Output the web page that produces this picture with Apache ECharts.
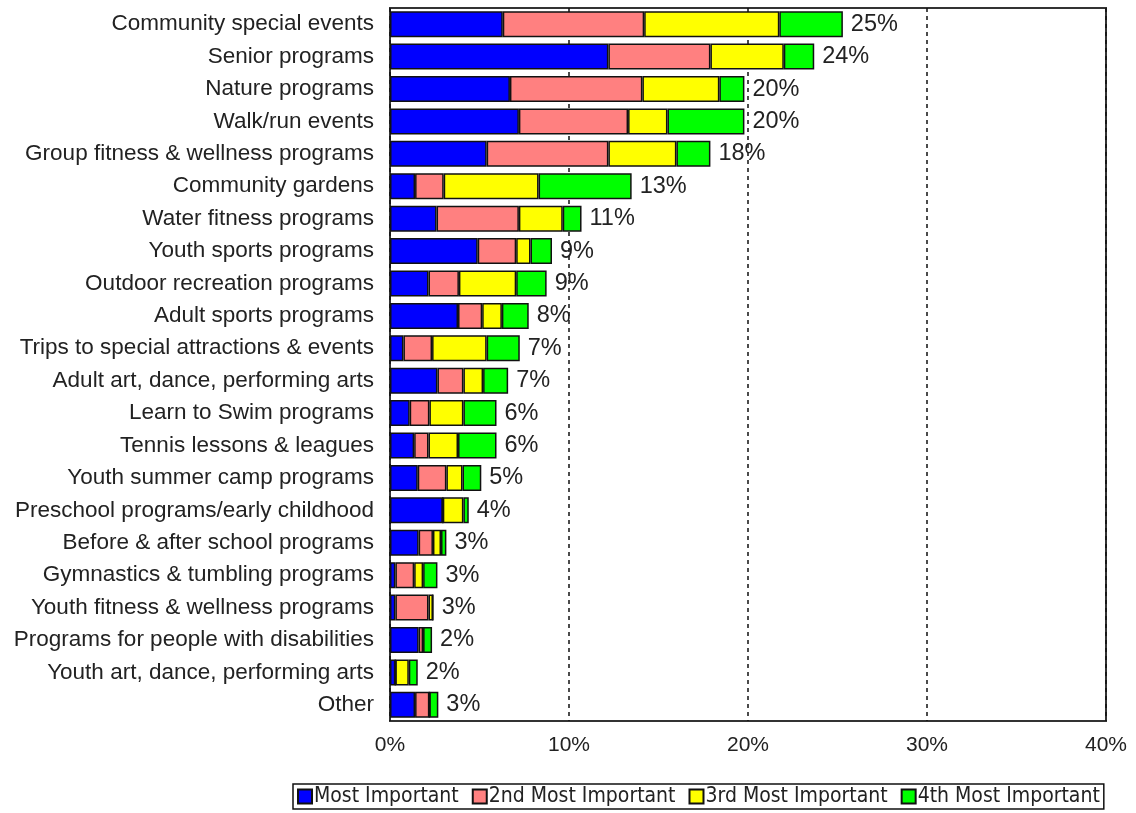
<!DOCTYPE html>
<html><head><meta charset="utf-8">
<script src="https://cdn.jsdelivr.net/npm/echarts@6/dist/echarts.min.js"></script>
<style>html,body{margin:0;padding:0;background:#fff}#c{width:1136px;height:813px}</style>
</head><body><div id="c"></div>
<script>
const categories = ["Community special events","Senior programs","Nature programs","Walk/run events","Group fitness & wellness programs","Community gardens","Water fitness programs","Youth sports programs","Outdoor recreation programs","Adult sports programs","Trips to special attractions & events","Adult art, dance, performing arts","Learn to Swim programs","Tennis lessons & leagues","Youth summer camp programs","Preschool programs/early childhood","Before & after school programs","Gymnastics & tumbling programs","Youth fitness & wellness programs","Programs for people with disabilities","Youth art, dance, performing arts","Other"];
const mostImportant = [6.3,12.2,6.7,7.2,5.4,1.4,2.6,4.9,2.15,3.8,0.75,2.65,1.1,1.35,1.55,2.95,1.6,0.3,0.3,1.6,0.3,1.4];
const secondImportant = [7.9,5.7,7.4,6.1,6.8,1.6,4.6,2.15,1.7,1.35,1.6,1.45,1.1,0.8,1.6,0,0.8,1.05,1.85,0.25,0,0.8];
const thirdImportant = [7.55,4.1,4.3,2.2,3.8,5.3,2.45,0.8,3.2,1.1,3.05,1.1,1.9,1.65,0.9,1.15,0.45,0.5,0.25,0,0.75,0];
const fourthImportant = [3.55,1.7,1.4,4.3,1.9,5.2,1.05,1.2,1.7,1.5,1.85,1.4,1.85,2.15,1.05,0.3,0.3,0.8,0,0.5,0.5,0.5];
const totals = [25,24,20,20,18,13,11,9,9,8,7,7,6,6,5,4,3,3,3,2,2,3];
const seriesNames = ["Most Important","2nd Most Important","3rd Most Important","4th Most Important"];
const xTicks = [0,10,20,30,40];

const font = "'Liberation Sans', Arial, sans-serif";
const colors = ["#0000FF","#FF8080","#FFFF00","#00FF00"];
const dataSets = [mostImportant, secondImportant, thirdImportant, fourthImportant];

const chart = echarts.init(document.getElementById('c'), null, {renderer:'canvas'});
const series = dataSets.map((d, i) => ({
  name: seriesNames[i],
  type: 'bar',
  stack: 'total',
  data: d,
  barWidth: 26,
  itemStyle: {color: colors[i], borderColor: '#111', borderWidth: 1.5},
  label: i === 3 ? {
    show: true, position: 'right', distance: 8,
    formatter: p => totals[p.dataIndex] + '%',
    fontFamily: font, fontSize: 23.5, color: '#222'
  } : {show: false},
  animation: false
}));

chart.setOption({
  animation: false,
  color: colors,
  grid: {left: 390, right: 30, top: 8, bottom: 92, show: true, borderColor: '#333', borderWidth: 2, backgroundColor: 'transparent'},
  xAxis: {
    type: 'value', min: xTicks[0], max: xTicks[xTicks.length-1], interval: 10,
    axisLine: {show: false},
    axisTick: {show: false},
    axisLabel: {formatter: v => v + '%', fontFamily: font, fontSize: 21, color: '#222', margin: 14},
    splitLine: {show: true, lineStyle: {color: '#111', type: [4, 4], width: 1.5}}
  },
  yAxis: {
    type: 'category', data: categories, inverse: true,
    axisLine: {show: false}, axisTick: {show: false},
    axisLabel: {fontFamily: font, fontSize: 22.5, color: '#222', margin: 16},
    splitLine: {show: false}
  },
  legend: {
    data: seriesNames,
    left: 293, top: 784,
    orient: 'horizontal',
    icon: 'rect', itemWidth: 14, itemHeight: 14, itemGap: 13,
    padding: [2, 4, 2, 4],
    borderColor: '#111', borderWidth: 1.5,
    textStyle: {fontFamily: "'Liberation Sans Narrow', 'Arial Narrow', 'DejaVu Sans Condensed', sans-serif", fontSize: 21, color: '#222', padding: [0,0,0,-3]},
    selectedMode: false
  },
  series: series
});
</script></body></html>
